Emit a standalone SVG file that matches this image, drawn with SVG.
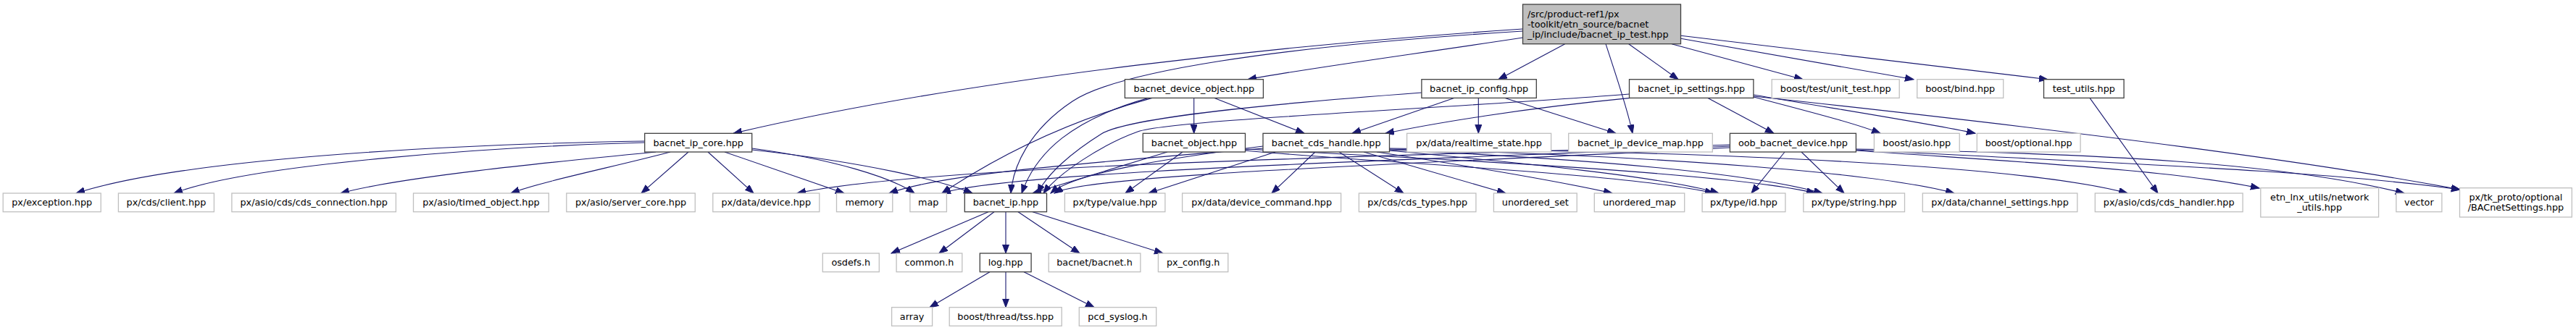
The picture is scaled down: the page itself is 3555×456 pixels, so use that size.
<svg xmlns="http://www.w3.org/2000/svg" width="3555" height="456" viewBox="0 0 3555 456">
<style>
text{font-family:"DejaVu Sans","Liberation Sans",sans-serif;font-size:12.8px;fill:#000;text-anchor:middle}
.d rect{fill:#fff;stroke:#404040;stroke-width:1.3}
.u rect{fill:#fff;stroke:#bfbfbf;stroke-width:1.3}
.r rect{fill:#bfbfbf;stroke:#404040;stroke-width:1.3}
.r text{text-anchor:start}
#edges path{fill:none;stroke:#191970;stroke-width:1.1;marker-end:url(#a)}
</style>
<defs><marker id="a" markerUnits="userSpaceOnUse" markerWidth="13" markerHeight="10" refX="12" refY="4.5" orient="auto"><path d="M0,0 L12,4.5 L0,9 z" fill="#191970" stroke="#191970" stroke-width="1"/></marker></defs>
<rect width="3555" height="456" fill="#fff"/>
<g id="edges">
<path d="M2101.5,40 C1800,60 1350,105 1012,184.3"/>
<path d="M2101.5,43 C1750,65 1540,100 1480,140 C1420,180 1398,230 1395,267"/>
<path d="M2101.5,52 C1950,75 1800,95 1722,109.7"/>
<path d="M2159.7,60.7 L2068,109.7"/>
<path d="M2216,60.7 C2232,110 2246,150 2253,184.3"/>
<path d="M2247.7,60.7 L2316,109.7"/>
<path d="M2307,60.7 L2488,109.7"/>
<path d="M2319.7,53.3 L2641,109.7"/>
<path d="M2319.7,49.3 L2826,109.7"/>
<path d="M1647.7,135.4 L1647.7,184.3"/>
<path d="M1676,135.4 L1800,184.3"/>
<path d="M1590,135.4 C1500,160 1400,200 1300,267"/>
<path d="M1585,135.4 C1480,165 1430,210 1410,267"/>
<path d="M1962,128 C1800,140 1560,160 1520,185 C1480,210 1445,240 1432,267"/>
<path d="M2006.6,135.4 L1866,184.3"/>
<path d="M2040.3,135.4 L2040.3,184.3"/>
<path d="M2077,135.4 L2230,184.3"/>
<path d="M2248.5,130 C2000,150 1620,165 1570,182 C1520,200 1460,240 1440,267"/>
<path d="M2250,135.4 C2100,150 1980,170 1912,184.3"/>
<path d="M2357,135.4 L2448,184.3"/>
<path d="M2420,134 C2480,150 2560,170 2595,184.3"/>
<path d="M2420,131 C2530,150 2660,170 2726,184.3"/>
<path d="M2420,133 C2900,185 3200,225 3395,262"/>
<path d="M2884,135.4 L2978,267"/>
<path d="M889.7,195 C600,200 250,220 105,267"/>
<path d="M889.7,197 C700,202 350,225 240,267"/>
<path d="M905,210 C750,225 550,245 470,267"/>
<path d="M925,210 C850,230 750,250 705,267"/>
<path d="M950,210 L885,267"/>
<path d="M977,210 L1040,267"/>
<path d="M1000,210 L1165,267"/>
<path d="M1037.8,205 C1150,220 1230,245 1262,267"/>
<path d="M1037.8,207 C1200,225 1300,250 1342,267"/>
<path d="M1611,210 L1425,267"/>
<path d="M1632,210 L1553,267"/>
<path d="M1815,210 L1755,267"/>
<path d="M1848,210 L1937,267"/>
<path d="M1882,210 L2078,267"/>
<path d="M1900,210 C2000,225 2150,250 2225,267"/>
<path d="M1917,208 C2100,225 2300,245 2372,267"/>
<path d="M1917,207 C2200,220 2420,240 2515,267"/>
<path d="M1917,206 C2300,215 2600,240 2697,267"/>
<path d="M1917,205 C2400,210 2800,230 2936,267"/>
<path d="M1760,210 L1585,267"/>
<path d="M1743,205 C1500,225 1300,240 1227,267"/>
<path d="M1743,202 C1600,220 1480,240 1450,267"/>
<path d="M1718.5,208 C1900,225 2250,240 2365,267"/>
<path d="M1718.5,206 C2000,220 2400,240 2505,267"/>
<path d="M2463,210 L2417,267"/>
<path d="M2486,210 L2545,267"/>
<path d="M2561.5,208 C2800,225 3000,235 3118,260"/>
<path d="M2561.5,206 C2900,212 3150,225 3318,267"/>
<path d="M2561.5,207 C2900,225 3200,235 3395,262"/>
<path d="M2387,200 C2000,215 1300,225 1100,267"/>
<path d="M2387,202 C2000,220 1400,235 1300,267"/>
<path d="M2387,204 C2000,225 1500,240 1455,267"/>
<path d="M1364,292.7 L1230,350"/>
<path d="M1372,292.7 L1296,350"/>
<path d="M1388,292.7 L1388,350"/>
<path d="M1405,292.7 L1490,350"/>
<path d="M1425,292.7 L1605,350"/>
<path d="M1366,375.7 L1283,424.7"/>
<path d="M1388,375.7 L1388,424.7"/>
<path d="M1413,375.7 L1510,424.7"/>
</g>
<g id="n_root" class="r"><rect x="2101.5" y="6" width="218" height="54.7"/><text x="2108" y="23.5">/src/product-ref1/px</text><text x="2108" y="37.8">-toolkit/etn_source/bacnet</text><text x="2108" y="52.1">_ip/include/bacnet_ip_test.hpp</text></g>
<g id="n_device_object" class="d"><rect x="1552.4" y="109.7" width="191" height="25.7"/><text x="1647.9" y="127">bacnet_device_object.hpp</text></g>
<g id="n_config" class="d"><rect x="1961.9" y="109.7" width="158.4" height="25.7"/><text x="2041.1" y="127">bacnet_ip_config.hpp</text></g>
<g id="n_settings" class="d"><rect x="2248.5" y="109.7" width="171.4" height="25.7"/><text x="2334.2" y="127">bacnet_ip_settings.hpp</text></g>
<g id="n_unit_test" class="u"><rect x="2445.2" y="109.7" width="176" height="25.7"/><text x="2533.2" y="127">boost/test/unit_test.hpp</text></g>
<g id="n_bind" class="u"><rect x="2645.7" y="109.7" width="119" height="25.7"/><text x="2705.2" y="127">boost/bind.hpp</text></g>
<g id="n_test_utils" class="d"><rect x="2820.5" y="109.7" width="110.6" height="25.7"/><text x="2875.8" y="127">test_utils.hpp</text></g>
<g id="n_core" class="d"><rect x="889.7" y="184.3" width="148" height="25.7"/><text x="963.7" y="201.6">bacnet_ip_core.hpp</text></g>
<g id="n_object" class="d"><rect x="1577.3" y="184.3" width="141.2" height="25.7"/><text x="1647.9" y="201.6">bacnet_object.hpp</text></g>
<g id="n_cds_handle" class="d"><rect x="1743" y="184.3" width="174.5" height="25.7"/><text x="1830.2" y="201.6">bacnet_cds_handle.hpp</text></g>
<g id="n_realtime" class="u"><rect x="1941.6" y="184.3" width="199" height="25.7"/><text x="2041.1" y="201.6">px/data/realtime_state.hpp</text></g>
<g id="n_device_map" class="u"><rect x="2164.7" y="184.3" width="198.6" height="25.7"/><text x="2264" y="201.6">bacnet_ip_device_map.hpp</text></g>
<g id="n_oob" class="d"><rect x="2387.4" y="184.3" width="174" height="25.7"/><text x="2474.4" y="201.6">oob_bacnet_device.hpp</text></g>
<g id="n_asio" class="u"><rect x="2586.4" y="184.3" width="117.8" height="25.7"/><text x="2645.3" y="201.6">boost/asio.hpp</text></g>
<g id="n_optional" class="u"><rect x="2728.3" y="184.3" width="142.8" height="25.7"/><text x="2799.7" y="201.6">boost/optional.hpp</text></g>
<g id="n_exception" class="u"><rect x="4.2" y="267" width="135" height="25.7"/><text x="71.7" y="284.3">px/exception.hpp</text></g>
<g id="n_client" class="u"><rect x="163.4" y="267" width="132" height="25.7"/><text x="229.4" y="284.3">px/cds/client.hpp</text></g>
<g id="n_cds_connection" class="u"><rect x="319.9" y="267" width="226.5" height="25.7"/><text x="433.2" y="284.3">px/asio/cds/cds_connection.hpp</text></g>
<g id="n_timed_object" class="u"><rect x="570.5" y="267" width="186.8" height="25.7"/><text x="663.9" y="284.3">px/asio/timed_object.hpp</text></g>
<g id="n_server_core" class="u"><rect x="781.8" y="267" width="177.5" height="25.7"/><text x="870.6" y="284.3">px/asio/server_core.hpp</text></g>
<g id="n_device" class="u"><rect x="983.8" y="267" width="147" height="25.7"/><text x="1057.3" y="284.3">px/data/device.hpp</text></g>
<g id="n_memory" class="u"><rect x="1154.5" y="267" width="77.3" height="25.7"/><text x="1193.2" y="284.3">memory</text></g>
<g id="n_map" class="u"><rect x="1255.9" y="267" width="50.5" height="25.7"/><text x="1281.2" y="284.3">map</text></g>
<g id="n_bacnet_ip" class="d"><rect x="1331.3" y="267" width="113.2" height="25.7"/><text x="1387.9" y="284.3">bacnet_ip.hpp</text></g>
<g id="n_value" class="u"><rect x="1469.4" y="267" width="138.5" height="25.7"/><text x="1538.7" y="284.3">px/type/value.hpp</text></g>
<g id="n_device_command" class="u"><rect x="1631.6" y="267" width="219" height="25.7"/><text x="1741.1" y="284.3">px/data/device_command.hpp</text></g>
<g id="n_cds_types" class="u"><rect x="1875.4" y="267" width="161.5" height="25.7"/><text x="1956.2" y="284.3">px/cds/cds_types.hpp</text></g>
<g id="n_unordered_set" class="u"><rect x="2061.4" y="267" width="114.8" height="25.7"/><text x="2118.8" y="284.3">unordered_set</text></g>
<g id="n_unordered_map" class="u"><rect x="2200.3" y="267" width="124.4" height="25.7"/><text x="2262.5" y="284.3">unordered_map</text></g>
<g id="n_id" class="u"><rect x="2349.1" y="267" width="114.8" height="25.7"/><text x="2406.5" y="284.3">px/type/id.hpp</text></g>
<g id="n_string" class="u"><rect x="2488.8" y="267" width="139.7" height="25.7"/><text x="2558.7" y="284.3">px/type/string.hpp</text></g>
<g id="n_channel_settings" class="u"><rect x="2653.3" y="267" width="213.5" height="25.7"/><text x="2760" y="284.3">px/data/channel_settings.hpp</text></g>
<g id="n_cds_handler" class="u"><rect x="2891.3" y="267" width="203.8" height="25.7"/><text x="2993.2" y="284.3">px/asio/cds/cds_handler.hpp</text></g>
<g id="n_network_utils" class="u"><rect x="3119.8" y="259.7" width="162.8" height="40.3"/><text x="3201.2" y="276.5">etn_lnx_utils/network</text><text x="3201.2" y="291">_utils.hpp</text></g>
<g id="n_vector" class="u"><rect x="3306.9" y="267" width="63" height="25.7"/><text x="3338.4" y="284.3">vector</text></g>
<g id="n_bacnetsettings" class="u"><rect x="3394.5" y="259.7" width="154.8" height="40.3"/><text x="3471.9" y="276.5">px/tk_proto/optional</text><text x="3471.9" y="291">/BACnetSettings.hpp</text></g>
<g id="n_osdefs" class="u"><rect x="1135.3" y="350" width="78" height="25.7"/><text x="1174.3" y="367.3">osdefs.h</text></g>
<g id="n_common" class="u"><rect x="1237.1" y="350" width="90.7" height="25.7"/><text x="1282.4" y="367.3">common.h</text></g>
<g id="n_log" class="d"><rect x="1352.3" y="350" width="70.8" height="25.7"/><text x="1387.7" y="367.3">log.hpp</text></g>
<g id="n_bacnet_h" class="u"><rect x="1447.2" y="350" width="126.7" height="25.7"/><text x="1510.5" y="367.3">bacnet/bacnet.h</text></g>
<g id="n_px_config" class="u"><rect x="1598.4" y="350" width="96.4" height="25.7"/><text x="1646.6" y="367.3">px_config.h</text></g>
<g id="n_array" class="u"><rect x="1230.6" y="424.7" width="56" height="25.7"/><text x="1258.6" y="442">array</text></g>
<g id="n_tss" class="u"><rect x="1310.2" y="424.7" width="155" height="25.7"/><text x="1387.7" y="442">boost/thread/tss.hpp</text></g>
<g id="n_syslog" class="u"><rect x="1489.3" y="424.7" width="106.4" height="25.7"/><text x="1542.5" y="442">pcd_syslog.h</text></g>
</svg>
